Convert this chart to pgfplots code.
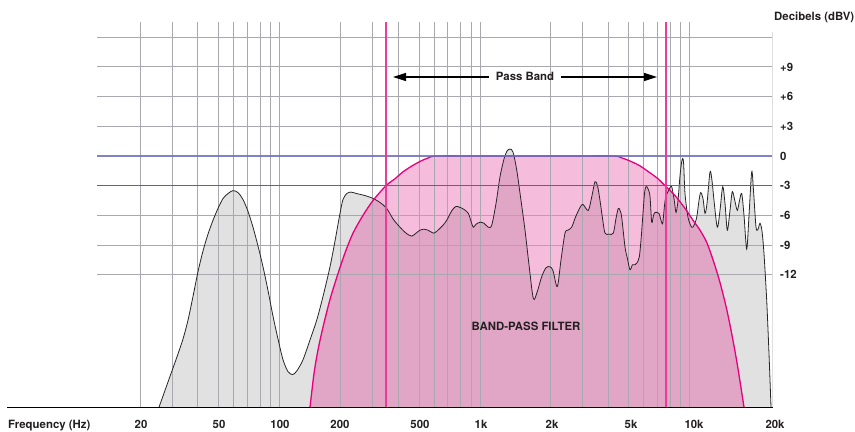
\documentclass[border=0pt]{standalone}
\usepackage{fontspec}
\setmainfont{TeX Gyre Heros}
\usepackage{pgfplots}
\pgfplotsset{compat=1.18}
\usepackage{pgfplotstable}
\usetikzlibrary{arrows.meta}

\definecolor{gridc}{RGB}{168,168,174}
\definecolor{respfill}{RGB}{225,225,225}
\definecolor{bpfill}{RGB}{225,32,138}
\definecolor{bpline}{RGB}{230,0,126}
\definecolor{vmag}{RGB}{236,60,155}
\definecolor{blueline}{RGB}{108,108,188}
\definecolor{txt}{RGB}{35,31,32}
\newcommand{\lab}{\fontsize{11.4bp}{13bp}\selectfont\bfseries}

% x = position along the (hand-drawn) frequency scale, y = dBV
\pgfplotstableread{
x y
159 -25.4
165 -23.7
171 -22.0
177 -20.3
183 -18.5
188 -16.6
193 -14.2
198 -11.7
203 -9.6
208 -7.9
213 -6.5
218 -5.3
223 -4.3
228 -3.8
233 -3.5
238 -3.7
243 -4.4
248 -5.6
253 -7.2
258 -9.1
263 -11.2
268 -13.6
273 -16.2
278 -18.5
283 -20.6
288 -21.8
292.7 -22.1
297 -21.7
303 -20.6
310 -18.6
316.7 -16.6
323 -14.2
330 -11.2
335 -8.6
340 -5.8
343 -4.4
346.7 -3.8
351 -3.65
356.7 -3.8
365 -4.0
373.3 -4.3
380 -4.7
386.7 -5.3
393.3 -6.4
400 -7.2
406 -7.8
411.7 -8.1
416 -7.8
420 -7.5
423.3 -7.4
428 -7.5
434 -7.8
439 -7.4
443 -7.0
446.7 -6.5
452 -5.5
456 -5.1
460 -5.2
464 -5.4
468.3 -5.8
471 -6.6
473.3 -7.2
476 -6.9
480 -6.7
484 -6.8
488.3 -7.2
491.7 -7.0
496 -4.8
500 -2.1
504 -0.3
507 0.5
510 0.7
513 0.4
516.7 -1.4
521 -4.5
525 -7.5
529 -11
533.3 -14.4
537 -13.8
541.7 -12.2
546 -11.3
550 -11.2
553 -11.6
557.3 -13.2
561 -10.5
565 -7.8
568 -7.5
571.7 -7.2
575 -6.3
580 -5.2
583 -4.9
588.3 -5.5
592 -4.0
595 -2.6
597.5 -3.0
600 -4.5
602.5 -6.3
605 -7.8
609 -7.9
613.3 -7.8
616 -6.3
618.3 -5.3
620 -5.5
621.7 -6.2
625 -9.2
627.5 -10.4
630 -11.5
632.5 -11.0
635 -11.0
637 -10.8
639.3 -10.2
641 -8.5
642.7 -6.2
644.5 -3.8
646 -3.1
648 -3.3
650 -4.1
651.7 -6.7
653.5 -6.0
655 -5.7
657 -5.7
659 -5.8
661 -6.5
662.7 -6.8
664.5 -5.0
666 -4.0
668 -3.6
670 -3.2
671.7 -3.1
674 -4.3
676 -5.7
678 -4.5
680 -2.0
682 -0.4
683.5 -0.6
685 -3.8
688 -6.2
691.7 -7.2
694 -7.0
696.7 -6.2
699 -4.5
700.7 -3.7
703 -4.3
705 -5.8
707 -4.8
710 -1.6
712 -2.5
714 -4.5
717.3 -7.2
720 -5.5
722.7 -3.1
725 -4.8
727.3 -7.5
730 -5.5
732.3 -3.6
735 -4.6
737.3 -5.5
739.5 -4.5
741.7 -3.8
744 -6.0
746.7 -9.4
749 -6.0
751.7 -1.6
753.5 -3.5
756 -7.2
758 -7.4
760 -6.8
762 -7.6
764 -9.9
766.7 -14.6
769 -20
771 -25.4
}\response

\pgfplotstableread{
x y
310 -25.4
314 -22
318 -19.6
323 -17.3
330 -14.5
337 -12.2
345 -9.8
353 -7.8
363 -6.0
373 -4.5
386 -3.0
395 -2.3
403 -1.6
412 -1.0
420 -0.55
428 -0.2
437 0
480 0
525 0
570 0
613 0
622 -0.2
631 -0.55
640 -1.0
650 -1.7
658 -2.3
665 -3.0
675 -4.0
685 -5.3
693 -6.5
700 -7.5
707 -8.8
714 -10.8
720 -12.8
726 -15.2
731 -17.6
737 -20.9
744 -25.4
}\bandpass

\begin{document}
\begin{tikzpicture}[font=\lab, text=txt]
\begin{axis}[
  at={(97bp,24.5bp)}, anchor=south west,
  scale only axis, width=675bp, height=385.8bp,
  xmin=97, xmax=772, ymin=-25.43, ymax=13.58,
  set layers,
  axis line style={draw=none},
  major tick length=0pt, minor tick length=0pt,
  xtick={141,219,280,340,420,481,552,631,694},
  xticklabels={20,50,100,200,500,1k,2k,5k,10k},
  extra x ticks={772}, extra x tick labels={20k},
  extra x tick style={grid=none, xticklabel style={xshift=3bp}},
  xticklabel style={anchor=base, yshift=-20.5bp, inner sep=0pt, font=\lab, text=txt},
  minor xtick={140,172,197,218,233,247,260,270,279,340,372,398,419,434,447,460,471,480,550,582,608,628,643,657,670,680,689},
  xminorgrids=true, xmajorgrids=false,
  ytick={12,9,6,3,-6,-9,-12},
  yticklabels={,+9,+6,+3,-6,-9,-12},
  extra y ticks={0,-3}, extra y tick labels={0,-3},
  extra y tick style={grid=none},
  yticklabel pos=right,
  yticklabel style={anchor=west, xshift=8bp, inner sep=0pt, font=\lab, text=txt},
  ymajorgrids=true,
  grid style={gridc, line width=1bp},
  minor grid style={gridc, line width=1bp},
]
\addplot[on layer=axis background, fill=respfill, draw=none, smooth] table {\response} -- cycle;
\addplot[on layer=axis background, fill=bpfill, fill opacity=0.3, draw=none, smooth] table {\bandpass} -- cycle;
\addplot[black!85, line width=0.8bp, smooth] table {\response};
\addplot[bpline, line width=1.3bp, smooth] table {\bandpass};
\addplot[draw=blueline, line width=1.2bp, draw opacity=0.85, mark=none] coordinates {(97,0) (772,0)};
\addplot[draw=vmag, line width=1.1bp, mark=none] coordinates {(386,-25.43) (386,13.58)};
\addplot[draw=vmag, line width=1.1bp, mark=none] coordinates {(666,-25.43) (666,13.58)};
\draw[black, line width=1bp] (772,12.55) -- (772,-25.43);
\end{axis}
\fill[fill={rgb,255:red,222;green,36;blue,138}] (97bp,245.5bp) rectangle (772bp,247.1bp);
\draw[black, line width=1.3bp] (7bp,24.5bp) -- (772.5bp,24.5bp);
\node[anchor=base west, inner sep=0pt] at (8bp,4bp) {Frequency (Hz)};
\node[anchor=base west, inner sep=0pt] at (774bp,411.3bp) {Decibels (dBV)};
\node[anchor=base, inner sep=0pt] at (525bp,351bp) {Pass Band};
\node[anchor=base, inner sep=0pt] at (526bp,101bp) {BAND-PASS FILTER};
\draw[line width=1.2bp, -{Triangle[length=13bp,width=8bp]}] (489bp,355bp) -- (393bp,355bp);
\draw[line width=1.2bp, -{Triangle[length=13bp,width=8bp]}] (561bp,355bp) -- (657bp,355bp);
\pgfresetboundingbox
\useasboundingbox (0,0) rectangle (855bp,432bp);
\end{tikzpicture}
\end{document}
